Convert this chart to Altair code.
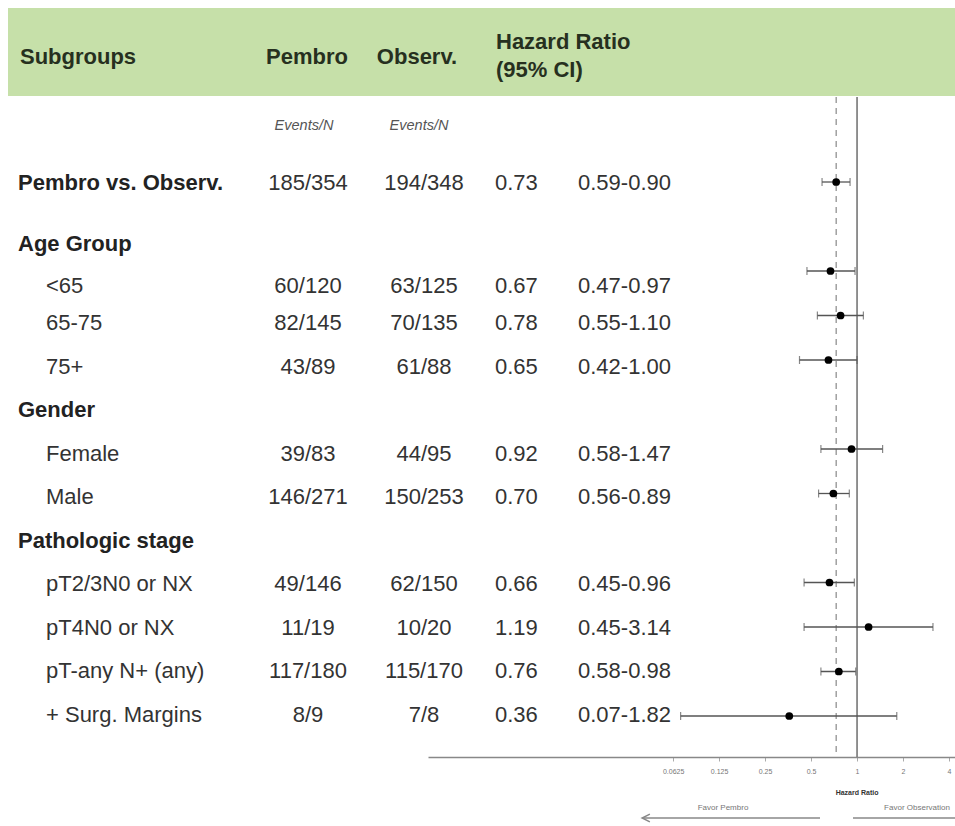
import altair as alt
import pandas as pd

# Subgroup rows of the forest plot
labels = ["Pembro vs. Observ.", "Age Group", "<65", "65-75", "75+", "Gender",
          "Female", "Male", "Pathologic stage", "pT2/3N0 or NX", "pT4N0 or NX",
          "pT-any N+ (any)", "+ Surg. Margins"]
is_heading = [True, True, False, False, False, True, False, False, True,
              False, False, False, False]
pembro = ["185/354", "", "60/120", "82/145", "43/89", "", "39/83", "146/271",
          "", "49/146", "11/19", "117/180", "8/9"]
observ = ["194/348", "", "63/125", "70/135", "61/88", "", "44/95", "150/253",
          "", "62/150", "10/20", "115/170", "7/8"]
hr = [0.73, None, 0.67, 0.78, 0.65, None, 0.92, 0.70, None, 0.66, 1.19, 0.76, 0.36]
ci_lo = [0.59, None, 0.47, 0.55, 0.42, None, 0.58, 0.56, None, 0.45, 0.45, 0.58, 0.07]
ci_hi = [0.90, None, 0.97, 1.10, 1.00, None, 1.47, 0.89, None, 0.96, 3.14, 0.98, 1.82]
overall_hr = 0.73
axis_ticks = [0.0625, 0.125, 0.25, 0.5, 1, 2, 4]

FONT = "Liberation Sans"
FS = 22

df = pd.DataFrame({
    "row": list(range(len(labels))),
    "label": labels,
    "heading": is_heading,
    "pembro": pembro,
    "observ": observ,
    "hr": hr,
    "lo": ci_lo,
    "hi": ci_hi,
})
df["hr_txt"] = [f"{v:.2f}" if v is not None and v == v else "" for v in df["hr"]]
df["ci_txt"] = [f"{a:.2f}-{b:.2f}" if a == a and b == b else ""
                for a, b in zip(df["lo"], df["hi"])]
est = df.dropna(subset=["hr"])

xs = alt.Scale(type="log", base=2, domain=[2 ** -9.33, 2 ** 2.13], range=[428, 955])
# plot rows are evenly spaced; the table rows open up a little after the overall row
ys_plot = alt.Scale(domain=[0, 12], range=[182, 716])
ys_table = alt.Scale(domain=[0, 1, 2, 3, 12], range=[183, 244, 286, 323, 715])
Yp = alt.Y("row:Q", scale=ys_plot, axis=None)
Yt = alt.Y("row:Q", scale=ys_table, axis=None)

base = alt.Chart(df)

# green header band and column headings
band = alt.Chart(pd.DataFrame({"k": [0]})).mark_rect(color="#c6e0a9").encode(
    x=alt.value(8), x2=alt.value(955), y=alt.value(8), y2=alt.value(96))

head_df = pd.DataFrame({
    "t": ["Subgroups", "Pembro", "Observ.", "Hazard Ratio", "(95% CI)"],
    "px": [20, 307, 417, 496, 496],
    "py": [57, 57, 57, 42, 70],
    "al": ["left", "center", "center", "left", "left"],
})
heads = []
for _, r in head_df.iterrows():
    heads.append(alt.Chart(pd.DataFrame({"t": [r.t]})).mark_text(
        font=FONT, fontSize=FS, fontWeight="bold", color="#26301f",
        align=r.al, baseline="middle").encode(
        x=alt.value(r.px), y=alt.value(r.py), text="t:N"))

sub_heads = [
    alt.Chart(pd.DataFrame({"t": ["Events/N"]})).mark_text(
        font=FONT, fontSize=14.5, fontStyle="italic", color="#555",
        baseline="middle").encode(x=alt.value(px), y=alt.value(126), text="t:N")
    for px in (304, 419)
]

# table columns
txt = dict(font=FONT, fontSize=FS, color="#333", baseline="middle")
lab_bold = base.transform_filter("datum.heading").mark_text(
    font=FONT, fontSize=FS, fontWeight="bold", color="#222", align="left",
    baseline="middle").encode(x=alt.value(18), y=Yt, text="label:N")
lab_sub = base.transform_filter("!datum.heading").mark_text(
    align="left", **txt).encode(x=alt.value(46), y=Yt, text="label:N")
col_p = base.mark_text(**txt).encode(x=alt.value(308), y=Yt, text="pembro:N")
col_o = base.mark_text(**txt).encode(x=alt.value(424), y=Yt, text="observ:N")
col_hr = base.mark_text(align="left", **txt).encode(x=alt.value(495), y=Yt, text="hr_txt:N")
col_ci = base.mark_text(align="left", **txt).encode(x=alt.value(578), y=Yt, text="ci_txt:N")

# reference lines: no effect and overall estimate
ref_one = alt.Chart(pd.DataFrame({"v": [1]})).mark_rule(
    color="#777", strokeWidth=1.6).encode(
    x=alt.X("v:Q", scale=xs,
            axis=alt.Axis(values=axis_ticks, format=".4~f", title=None,
                          labelFont=FONT, labelFontSize=7, labelColor="#777",
                          domainColor="#888", domainWidth=1.5, tickColor="#aaa",
                          tickSize=4, labelPadding=6, grid=False,
                          labelFlush=False, labelOverlap=False)),
    y=alt.value(97), y2=alt.value(757))
ref_all = alt.Chart(pd.DataFrame({"v": [overall_hr]})).mark_rule(
    color="#888", strokeWidth=1.2, strokeDash=[6, 5]).encode(
    x=alt.X("v:Q", scale=xs), y=alt.value(97), y2=alt.value(757))

# confidence intervals, caps and point estimates
ci = alt.Chart(est).mark_rule(color="#555", strokeWidth=1.3).encode(
    x=alt.X("lo:Q", scale=xs), x2="hi:Q", y=Yp)
cap_lo = alt.Chart(est).mark_tick(color="#555", orient="vertical", size=8,
                                  thickness=1.2).encode(x=alt.X("lo:Q", scale=xs), y=Yp)
cap_hi = alt.Chart(est).mark_tick(color="#555", orient="vertical", size=8,
                                  thickness=1.2).encode(x=alt.X("hi:Q", scale=xs), y=Yp)
pts = alt.Chart(est).mark_point(filled=True, color="#000", size=60, opacity=1).encode(
    x=alt.X("hr:Q", scale=xs), y=Yp)

# axis title and direction arrows
axis_title = alt.Chart(pd.DataFrame({"v": [1], "t": ["Hazard Ratio"]})).mark_text(
    font=FONT, fontSize=7, fontWeight="bold", color="#333", baseline="middle").encode(
    x=alt.X("v:Q", scale=xs), y=alt.value(793), text="t:N")
favor = alt.Chart(pd.DataFrame({"t": ["Favor Pembro", "Favor Observation"],
                                "px": [723, 917]})).mark_text(
    font=FONT, fontSize=8, color="#777", baseline="middle").encode(
    x=alt.X("px:Q", scale=None), y=alt.value(808), text="t:N")
arrows = alt.Chart(pd.DataFrame({"a": [643, 853], "b": [820, 955]})).mark_rule(
    color="#888", strokeWidth=1.5).encode(
    x=alt.X("a:Q", scale=None), x2="b:Q", y=alt.value(818))
head = alt.Chart(pd.DataFrame({"a": [646]})).mark_point(
    shape="M1,-1L-1,0L1,1", filled=False, color="#888", size=60, strokeWidth=1.5,
    opacity=1).encode(x=alt.X("a:Q", scale=None), y=alt.value(818))

chart = alt.layer(
    band, *heads, *sub_heads, ref_one, ref_all, ci, cap_lo, cap_hi, pts,
    lab_bold, lab_sub, col_p, col_o, col_hr, col_ci, axis_title, favor, arrows, head
).resolve_scale(y="independent").properties(
    width=955, height=757,
    autosize=alt.AutoSizeParams(type="none"),
    padding={"left": 0, "top": 0, "right": 0, "bottom": 69},
    background="white",
).configure_view(stroke=None, strokeWidth=0)

chart.save("out.html", embed_options={"renderer": "svg", "actions": False})
